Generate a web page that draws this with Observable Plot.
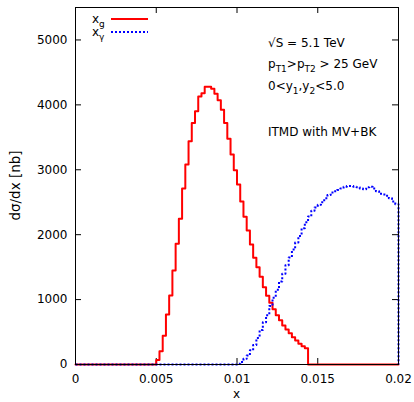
<!DOCTYPE html>
<html>
<head>
<meta charset="utf-8">
<script src="https://cdn.jsdelivr.net/npm/d3@7"></script>
<script src="https://cdn.jsdelivr.net/npm/@observablehq/plot@0.6"></script>
<style>
  body { margin: 0; background: #fff; }
</style>
</head>
<body>
<div id="chart"></div>
<script>
// ---- data ----
const binWidth = 0.0002;
const xMax = 0.02;

// x_g (red) : first bin starts at 0.005
const xgStart = 0.005;
const xgValues = [
  70, 205, 442, 770, 1063, 1448, 1860, 2245, 2710, 3080,
  3440, 3720, 3900, 4130, 4180, 4280, 4280, 4250, 4170, 4070,
  3925, 3720, 3478, 3236, 2994, 2773, 2512, 2276, 2065, 1849,
  1644, 1500, 1350, 1190, 1060, 950, 850, 760, 680, 600,
  540, 480, 420, 370, 320, 280, 250
];

// x_gamma (blue) : first bin starts at 0.0100
const xyStart = 0.0100;
const xyValues = [
  10, 38, 87, 139, 220, 300, 410, 530, 650, 760,
  900, 1030, 1150, 1280, 1400, 1530, 1650, 1770, 1880, 1980,
  2100, 2190, 2280, 2370, 2420, 2460, 2500, 2560, 2610, 2650,
  2670, 2690, 2710, 2740, 2750, 2750, 2740, 2730, 2710, 2700,
  2730, 2740, 2710, 2670, 2630, 2620, 2600, 2560, 2510, 2470
];

const xTicks = [0, 0.005, 0.01, 0.015, 0.02];
const xTickLabels = ["0", "0.005", "0.01", "0.015", "0.02"];
const yTicks = [0, 1000, 2000, 3000, 4000, 5000];
const yTickLabels = ["0", "1000", "2000", "3000", "4000", "5000"];

const seriesNames = [["x", "g"], ["x", "γ"]];
const seriesColors = ["#ff0000", "#0000ff"];
const xLabel = "x";
const yLabel = "dσ/dx [nb]";
const notes = [
  [["√S = 5.1 TeV", false]],
  [["p", false], ["T1", true], [">p", false], ["T2", true], [" > 25 GeV", false]],
  [["0<y", false], ["1", true], [",y", false], ["2", true], ["<5.0", false]],
  [["ITMD with MV+BK", false]]
];

// ---- build step outlines (histeps over full range, zero elsewhere) ----
function stepPoints(start, values, dropAtEnd) {
  const nBins = Math.round(xMax / binWidth);
  const k0 = Math.round(start / binWidth);
  const pts = [];
  for (let k = 0; k < nBins; k++) {
    const v = (k >= k0 && k - k0 < values.length) ? values[k - k0] : 0;
    pts.push({x: k * binWidth, y: v});
    pts.push({x: (k + 1) * binWidth, y: v});
  }
  if (dropAtEnd) pts.push({x: xMax, y: 0});
  return pts;
}
const redPts = stepPoints(xgStart, xgValues, false);
const bluePts = stepPoints(xyStart, xyValues, true);

// ---- layout ----
const W = 414, H = 402;
const mL = 75, mR = 16, mT = 7, mB = 38;
const pw = W - mL - mR, ph = H - mT - mB;
const tick = 6;

const chart = Plot.plot({
  width: W, height: H,
  marginLeft: mL, marginRight: mR, marginTop: mT, marginBottom: mB,
  style: {fontFamily: "DejaVu Sans", fontSize: "12px", background: "white", color: "black"},
  x: {domain: [0, xMax]},
  y: {domain: [0, 5500]},
  marks: [
    Plot.axisX({ticks: xTicks, tickSize: 0, tickPadding: 10, label: null,
      tickFormat: d => xTickLabels[xTicks.indexOf(d)]}),
    Plot.axisY({ticks: yTicks, tickSize: 0, tickPadding: 8, label: null,
      tickFormat: d => yTickLabels[yTicks.indexOf(d)]}),
    Plot.tickX(xTicks, {x: d => d, insetTop: ph - tick, stroke: "black"}),
    Plot.tickX(xTicks, {x: d => d, insetBottom: ph - tick, stroke: "black"}),
    Plot.tickY(yTicks, {y: d => d, insetRight: pw - tick, stroke: "black"}),
    Plot.tickY(yTicks, {y: d => d, insetLeft: pw - tick, stroke: "black"}),
    Plot.line(redPts, {x: "x", y: "y", stroke: seriesColors[0], strokeWidth: 2, curve: "linear"}),
    Plot.line(bluePts, {x: "x", y: "y", stroke: seriesColors[1], strokeWidth: 2,
      strokeDasharray: "2,2", strokeLinecap: "butt", curve: "linear"}),
    Plot.frame({stroke: "black"})
  ]
});
document.getElementById("chart").appendChild(chart);

// ---- texts (labels, legend, annotations) ----
const svg = d3.select(chart);
const g = svg.append("g").attr("font-family", "DejaVu Sans").attr("font-size", 12)
  .attr("fill", "black").attr("text-anchor", "start");

function richText(parent, parts, x, y) {
  const t = parent.append("text").attr("x", x).attr("y", y).attr("text-anchor", "start");
  let shifted = false;
  parts.forEach(([s, sub]) => {
    const ts = t.append("tspan").text(s);
    if (sub && !shifted) { ts.attr("dy", 3.5).attr("font-size", 9); shifted = true; }
    else if (sub) { ts.attr("font-size", 9); }
    else if (shifted) { ts.attr("dy", -3.5); shifted = false; }
  });
  return t;
}

g.append("text").attr("x", mL + pw / 2).attr("y", 398).attr("text-anchor", "middle").text(xLabel);
g.append("text").attr("transform", `translate(20,${mT + ph / 2}) rotate(-90)`)
  .attr("text-anchor", "middle").attr("font-size", 13.5).text(yLabel);

// legend
const legY = [23, 36];
seriesNames.forEach((nm, i) => {
  richText(g, [[nm[0], false], [nm[1], true]], 92, legY[i]);
  const ln = g.append("line").attr("x1", 111).attr("x2", 148)
    .attr("y1", legY[i] - 4).attr("y2", legY[i] - 4)
    .attr("stroke", seriesColors[i]).attr("stroke-width", 2);
  if (i === 1) ln.attr("stroke-dasharray", "2,2");
});

// annotations
const noteY = [47, 68, 90, 136];
notes.forEach((parts, i) => richText(g, parts, 268, noteY[i]));
</script>
</body>
</html>
